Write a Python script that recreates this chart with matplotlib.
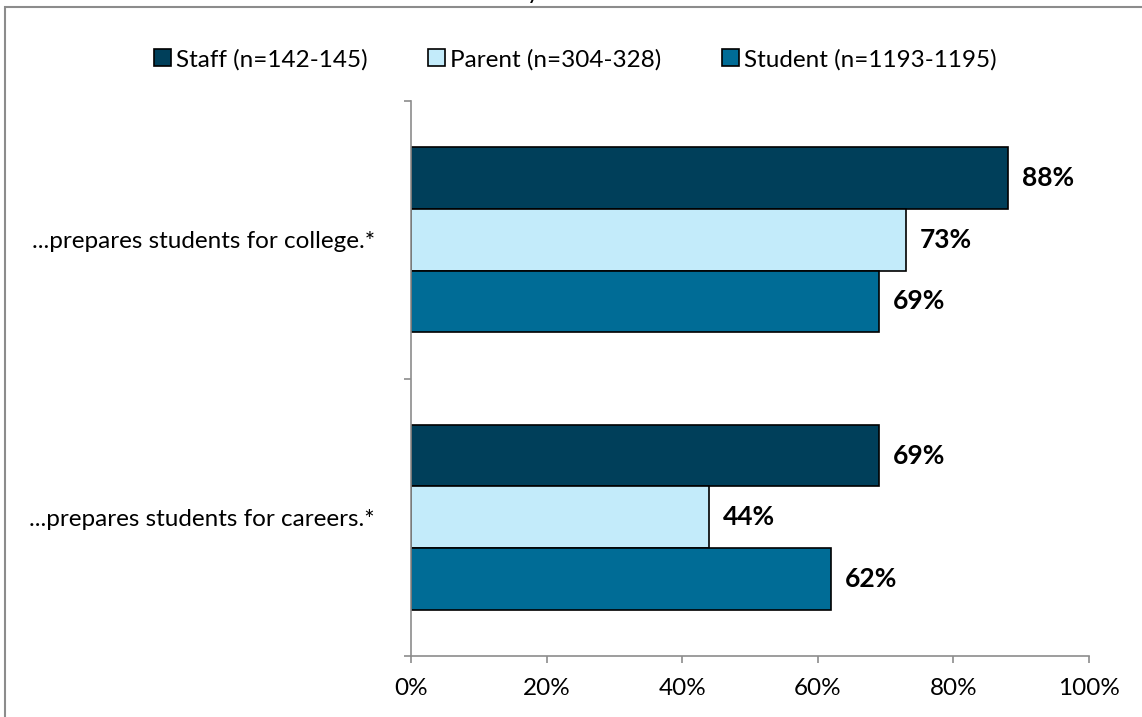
import matplotlib
matplotlib.use('Agg')
import matplotlib.pyplot as plt
from matplotlib.patches import Rectangle
import numpy as np

plt.rcParams['font.family'] = ['Lato', 'DejaVu Sans']

categories = ['...prepares students for careers.*', '...prepares students for college.*']
series = ['Staff (n=142-145)', 'Parent (n=304-328)', 'Student (n=1193-1195)']
staff = [0.69, 0.88]
parent = [0.44, 0.73]
student = [0.62, 0.69]

colors = ['#003F5A', '#C3EBFA', '#006C96']
fs = 17.5

fig = plt.figure(figsize=(11.42, 7.17), dpi=100)
ax = fig.add_axes([411/1142, 1 - 656/717, (1089 - 411)/1142, (656 - 101)/717])

h = 0.222
y = np.arange(len(categories))
offsets = [h, 0, -h]
for vals, off, col, name in zip([staff, parent, student], offsets, colors, series):
    ax.barh(y + off, vals, height=h, color=col, edgecolor='black', linewidth=1.2, label=name)
    for yy, v in zip(y + off, vals):
        ax.annotate(f'{v:.0%}', (v, yy), xytext=(10, 0), textcoords='offset points',
                    ha='left', va='center', fontsize=19, fontweight='bold', color='black')

ax.set_xlim(0, 1)
ax.set_ylim(-0.5, 1.5)
ax.set_xticks(np.arange(0, 1.01, 0.2))
ax.set_xticklabels(['0%', '20%', '40%', '60%', '80%', '100%'], fontsize=fs)
ax.set_yticks([-0.5, 0.5, 1.5])
ax.set_yticklabels([])
ax.set_yticks(y, minor=True)
ax.set_yticklabels(categories, minor=True, fontsize=fs)
ax.tick_params(axis='y', which='minor', length=0, pad=26)
ax.tick_params(axis='both', which='major', length=5, width=1.2, color='#8C8C8C', direction='out')
ax.tick_params(axis='x', pad=11)
for s in ['top', 'right']:
    ax.spines[s].set_visible(False)
for s in ['left', 'bottom']:
    ax.spines[s].set_color('#8C8C8C')
    ax.spines[s].set_linewidth(1.2)

ax.legend(loc='upper center', bbox_to_anchor=(575/1142, 1 - 27/717), bbox_transform=fig.transFigure,
          ncol=3, frameon=False, fontsize=fs, handlelength=0.7, handleheight=0.7,
          handletextpad=0.2, columnspacing=2.5)

# chart border (partly cut at the edges)
fig.add_artist(Rectangle((5/1142, -0.2), 1.5, 1.2 - 7/717, transform=fig.transFigure,
                         fill=False, edgecolor='#8C8C8C', linewidth=1.5, clip_on=False))
# cut-off title descender
fig.text(533/1142, 1 + 1/717, 'y', ha='center', va='baseline', fontsize=fs, color='black')

fig.savefig('out.png', dpi=100)
